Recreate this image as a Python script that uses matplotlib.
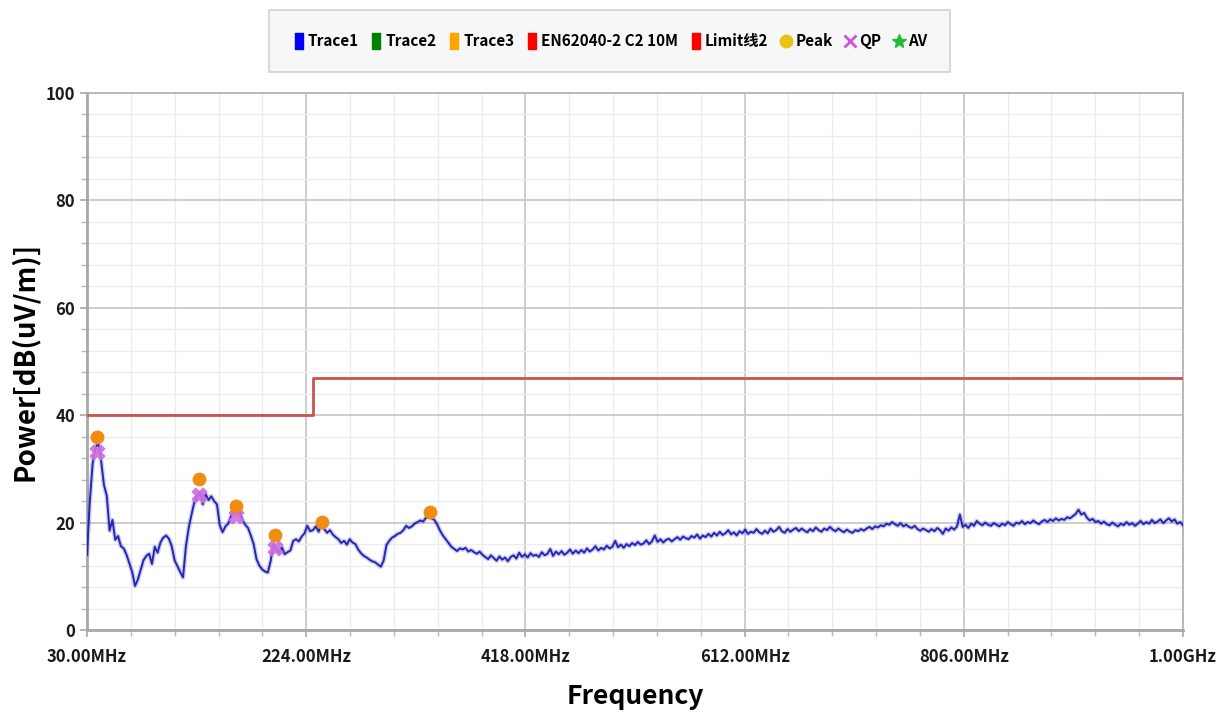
"""EMI radiated emission sweep, 30 MHz - 1 GHz, with limit line and detector markers"""

import numpy as np
import matplotlib
matplotlib.use("Agg")
import matplotlib.pyplot as plt
from matplotlib.lines import Line2D
from matplotlib.ticker import FixedLocator

FONT = ["Noto Sans CJK SC", "DejaVu Sans"]
plt.rcParams["font.family"] = FONT

# Trace1 sweep, 2.5 MHz step from 30 MHz to 1 GHz
trace1 = [
    14.0, 24.0, 31.0, 34.0, 34.8, 31.5, 27.0, 25.0, 18.5, 20.5, 16.8, 17.5, 15.6, 15.2, 14.0, 12.4, 10.8, 8.2, 9.4, 11.2,
    13.0, 13.8, 14.2, 12.3, 15.5, 14.4, 16.3, 17.2, 17.6, 17.0, 15.6, 13.0, 11.9, 10.8, 9.8, 15.5, 19.0, 21.5, 23.8, 25.0,
    25.6, 23.4, 25.3, 24.2, 24.9, 24.0, 23.4, 19.5, 18.2, 19.3, 19.8, 21.2, 22.3, 21.6, 22.1, 20.5, 19.6, 19.0, 17.6, 16.0,
    13.2, 12.0, 11.3, 10.9, 10.7, 12.8, 16.0, 15.0, 14.4, 15.4, 14.1, 14.5, 14.8, 16.6, 16.9, 16.5, 17.4, 18.0, 19.4, 18.4,
    18.6, 19.3, 18.3, 19.8, 18.8, 18.1, 18.6, 17.8, 17.3, 16.9, 16.2, 16.6, 15.9, 16.9, 16.3, 16.0, 15.0, 14.3, 13.8, 13.5,
    13.1, 12.8, 12.6, 12.2, 11.8, 12.9, 15.8, 16.6, 17.2, 17.5, 17.9, 18.1, 18.6, 19.4, 19.0, 19.3, 19.8, 20.1, 20.4, 20.2,
    20.9, 21.1, 20.8, 20.5, 19.6, 18.5, 17.6, 16.9, 16.2, 15.5, 15.1, 14.7, 15.2, 15.0, 15.3, 14.6, 14.9, 14.5, 14.2, 14.6,
    14.0, 13.6, 13.2, 13.9, 13.4, 12.9, 13.7, 13.1, 13.5, 12.8, 13.6, 13.9, 13.3, 14.4, 13.6, 14.1, 13.5, 14.3, 13.8, 14.0,
    13.6, 14.5, 13.9, 14.2, 15.1, 13.8, 14.6, 14.1, 14.7, 14.0, 14.4, 15.0, 14.2, 14.8, 14.3, 14.9, 14.4, 15.2, 14.6, 15.0,
    15.6, 14.8, 15.3, 15.0, 15.7, 15.2, 15.5, 16.6, 15.4, 15.9, 15.3, 16.0, 15.6, 16.2, 15.8, 16.4, 15.9, 16.1, 16.7, 16.0,
    16.5, 17.6, 16.4, 16.9, 16.3, 16.8, 17.0, 16.5, 16.9, 17.3, 16.8, 17.4, 17.1, 16.9, 17.5, 17.2, 17.8, 17.0, 17.6, 17.3,
    17.9, 17.4, 18.1, 17.6, 18.3, 17.7, 18.0, 18.6, 17.8, 18.2, 17.6, 18.4, 18.0, 18.7, 17.9, 18.3, 18.1, 18.8, 18.2, 17.9,
    18.5, 18.0, 18.9, 18.3, 18.6, 19.2, 18.4, 18.1, 18.8, 18.3, 18.7, 19.0, 18.4, 18.9, 18.5, 18.2, 18.8, 18.4, 19.1, 18.6,
    18.3, 18.9, 18.6, 19.2, 18.7, 18.4, 18.9, 18.5, 18.2, 18.7, 18.3, 18.1, 18.6, 18.4, 18.8, 18.5, 18.9, 19.2, 18.8, 19.3,
    19.1, 19.5, 19.3, 19.8, 19.6, 20.1, 19.7, 19.4, 19.9, 19.3, 19.6, 19.2, 19.0, 19.4, 18.8, 18.5, 18.9, 18.6, 18.3, 18.8,
    18.4, 19.0, 18.6, 17.9, 18.9, 18.5, 19.1, 18.7, 19.3, 21.5, 19.2, 19.6, 19.0, 19.8, 19.4, 20.3, 19.8, 19.5, 20.0, 19.6,
    19.4, 19.9, 19.6, 19.3, 19.8, 19.5, 20.1, 19.7, 19.4, 20.0, 19.8, 20.3, 19.7, 20.1, 19.9, 20.4, 20.0, 19.7, 20.2, 20.5,
    20.1, 20.6, 20.3, 20.8, 20.4, 20.7, 20.5, 21.0, 20.8, 21.2, 21.6, 22.4, 21.5, 21.8, 20.9, 20.4, 20.7, 20.1, 20.3, 19.8,
    20.2, 19.7, 19.5, 20.0, 19.6, 19.3, 19.8, 19.5, 20.1, 19.6, 19.9, 19.4, 19.8, 20.3, 19.7, 20.1, 19.8, 20.5, 19.9, 20.2,
    20.6, 19.9, 20.4, 20.8, 20.2, 20.6, 19.8, 20.1, 19.5,
]
freq = np.linspace(30, 1000, len(trace1))

# EN62040-2 C2 10 m limit (step at 230 MHz)
limit_freq = [30, 230, 230, 1000]
limit_level = [40, 40, 47, 47]

# Final measurement points
peak_freq = [38.9, 129.0, 161.9, 196.4, 238.0, 333.5]
peak_level = [35.9, 28.1, 23.1, 17.6, 20.1, 22.0]
qp_freq = [38.9, 129.0, 161.9, 196.4]
qp_level = [33.1, 25.1, 21.2, 15.3]

xtick_pos = [30, 224, 418, 612, 806, 1000]
xtick_labels = ["30.00MHz", "224.00MHz", "418.00MHz", "612.00MHz", "806.00MHz", "1.00GHz"]
ytick_pos = [0, 20, 40, 60, 80, 100]

fig = plt.figure(figsize=(12.26, 7.18), dpi=100)
ax = fig.add_axes([87 / 1226, 1 - 630 / 718, (1183 - 87) / 1226, (630 - 93) / 718])

# Grid: major every 194 MHz / 20 dB, minor at fifths
ax.set_xlim(30, 1000)
ax.set_ylim(0, 100)
ax.xaxis.set_major_locator(FixedLocator(xtick_pos))
ax.xaxis.set_minor_locator(FixedLocator(np.arange(30, 1000.1, 38.8)))
ax.yaxis.set_major_locator(FixedLocator(ytick_pos))
ax.yaxis.set_minor_locator(FixedLocator(np.arange(0, 100.1, 4)))
ax.grid(which="major", color="#c9c9c9", lw=1.3)
ax.grid(which="minor", color="#ececec", lw=1.0)
ax.set_axisbelow(True)

ax.plot(limit_freq, limit_level, color="#c85450", lw=2.0, zorder=3)

# blue trace with a soft halo
ax.plot(freq, trace1, color="#4040d0", lw=3.4, alpha=0.25, zorder=4)
ax.plot(freq, trace1, color="#2626b0", lw=1.4, zorder=5)

ax.scatter(qp_freq, qp_level, marker="X", s=110, color="#d070e0", alpha=0.9, zorder=6)
ax.scatter(peak_freq, peak_level, marker="o", s=80, color="#f08c12", zorder=7)

for side in ("top", "right"):
    ax.spines[side].set_color("#b0b0b0")
    ax.spines[side].set_linewidth(1.2)
for side in ("left", "bottom"):
    ax.spines[side].set_color("#a8a8a8")
    ax.spines[side].set_linewidth(2.0)

ax.set_xticks(xtick_pos, xtick_labels)
ax.tick_params(axis="both", which="major", labelsize=12, colors="#a8a8a8",
               labelcolor="#1a1a1a", length=5, width=1.2)
ax.tick_params(axis="both", which="minor", colors="#b8b8b8", length=4, width=1.0)
ax.tick_params(axis="x", pad=8)
for lbl in ax.get_xticklabels() + ax.get_yticklabels():
    lbl.set_fontweight("bold")

ax.set_xlabel("Frequency", fontsize=19, fontweight="bold", labelpad=12)
ax.set_ylabel("Power[dB(uV/m)]", fontsize=20, fontweight="bold", labelpad=5)

# Legend strip above the plot
bar = [(-0.55, -1.0), (0.55, -1.0), (0.55, 1.0), (-0.55, 1.0), (-0.55, -1.0)]
handles = [
    Line2D([], [], ls="", marker=bar, ms=11, color="#0000ff"),
    Line2D([], [], ls="", marker=bar, ms=11, color="#008000"),
    Line2D([], [], ls="", marker=bar, ms=11, color="#ffa500"),
    Line2D([], [], ls="", marker=bar, ms=11, color="#ff0000"),
    Line2D([], [], ls="", marker=bar, ms=11, color="#ff0000"),
    Line2D([], [], ls="", marker="o", ms=9, color="#e8c214"),
    Line2D([], [], ls="", marker="x", ms=9, mew=2, color="#cc55dd"),
    Line2D([], [], ls="", marker="*", ms=10, color="#22bb33"),
]
names = ["Trace1", "Trace2", "Trace3", "EN62040-2 C2 10M", "Limit线2", "Peak", "QP", "AV"]
leg = fig.legend(handles, names, loc="center", bbox_to_anchor=(0.4975, 0.943), ncol=8,
                 frameon=True, fancybox=False, borderpad=1.5, handletextpad=0.2,
                 columnspacing=0.75, handlelength=0.8,
                 prop={"family": FONT, "weight": "bold", "size": 11})
leg.get_frame().set_facecolor("#f6f6f6")
leg.get_frame().set_edgecolor("#c8c8c8")
leg.get_frame().set_linewidth(1.2)

fig.savefig("out.png", dpi=100)
